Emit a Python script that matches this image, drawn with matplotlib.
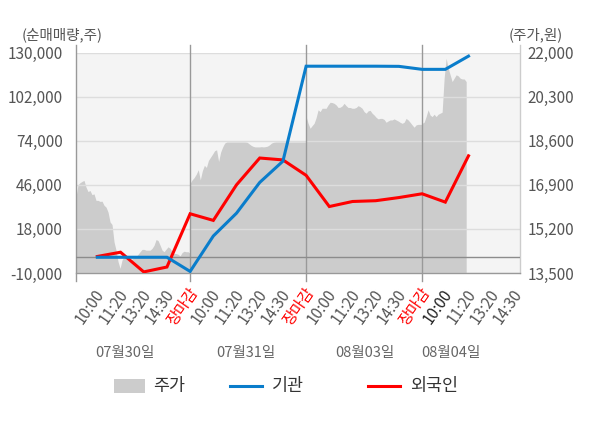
import numpy as np
import matplotlib
matplotlib.use("Agg")
import matplotlib.pyplot as plt
from matplotlib.patches import Rectangle
from matplotlib.lines import Line2D
import matplotlib.transforms as mtransforms

plt.rcParams["font.family"] = ["Noto Sans CJK KR", "DejaVu Sans"]

# ── data ───────────────────────────────────────────────────────────────
days        = ["07월30일", "07월31일", "08월03일", "08월04일"]
slot_labels = ["10:00", "11:20", "13:20", "14:30", "장마감"]

# net buying (shares) at each slot, day1 10:00 .. day4 11:20
inst    = [0, 0, 0, 0, -9000, 13500, 28000, 47500, 61000, 121300,
           121300, 121300, 121300, 121200, 119300, 119300, 127700]
foreign = [500, 3200, -9300, -6200, 27600, 23400, 46000, 63000, 61800, 52000,
           32200, 35400, 35900, 37900, 40300, 35000, 64400]

# intraday price (won)
price_d1 = [16430, 16900, 16980, 17030, 17070, 16810, 16640, 16680, 16520, 16550,
            16300, 16300, 16260, 16270, 16110, 16040, 15850, 15470, 15370, 14700,
            14380, 13940, 13680, 14000, 14130, 14060, 14040, 14000, 14040, 14090,
            14130, 14220, 14320, 14410, 14410, 14380, 14380, 14380, 14450, 14570,
            14790, 14750, 14570, 14380, 14320, 14420, 14510, 14450, 14320, 14250,
            14250, 14220, 14160, 14290, 14340, 14320, 14320, 14250]
price_d2 = [16960, 17090, 17180, 17310, 17480, 17090, 17440, 17650, 17570, 17840,
            17960, 18080, 18210, 18250, 17800, 18160, 18360, 18510, 18550, 18550,
            18550, 18550, 18550, 18550, 18550, 18550, 18550, 18550, 18540, 18480,
            18420, 18380, 18360, 18360, 18360, 18370, 18360, 18370, 18390, 18440,
            18510, 18540, 18550, 18550, 18550, 18550, 18550, 18550, 18550, 18550,
            18550, 18550, 18550, 18550, 18550, 18550, 18550, 18550]
price_d3 = [19530, 19270, 19080, 19180, 19270, 19490, 19790, 19720, 19850, 19850,
            19850, 19980, 20080, 20070, 20040, 19980, 19880, 19890, 19940, 20040,
            19950, 19880, 19880, 19850, 19850, 19880, 19950, 19910, 19850, 19720,
            19660, 19750, 19770, 19660, 19590, 19500, 19440, 19460, 19460, 19420,
            19310, 19360, 19400, 19400, 19440, 19400, 19360, 19310, 19270, 19310,
            19460, 19400, 19310, 19210, 19120, 19210, 19230, 19230, 19230]
price_d4 = [19270, 19310, 19530, 19790, 19590, 19530, 19620, 19530, 19620, 19660,
            19700, 21010, 21780, 21400, 21140, 20880, 21010, 21140, 21100, 21010,
            20980, 20980, 20880]

left_ticks  = [-10000, 18000, 46000, 74000, 102000, 130000]
right_ticks = [13500, 15200, 16900, 18600, 20300, 22000]

# ── layout ─────────────────────────────────────────────────────────────
W, H = 600, 428
def fx(px): return px / W
def fy(py): return 1 - py / H

AREA  = "#cccccc"
BLUE  = "#0a7dcb"
RED   = "#ff0000"
GRAY  = "#666666"

fig = plt.figure(figsize=(6, 4.28), dpi=100)
ax = fig.add_axes([fx(76), fy(273), fx(520) - fx(76), fy(52.5) - fy(273)])
ax.set_facecolor("#f4f4f4")

# price area on base axes (right side), shares lines on twin (left side)
spans = [(-0.92, 4), (4, 9), (9, 14), (14, 15.9)]
for (a, b), p in zip(spans, [price_d1, price_d2, price_d3, price_d4]):
    xs = np.linspace(a, b, len(p))
    ax.fill_between(xs, 13500, p, color=AREA, lw=0, zorder=1)
ax.set_ylim(13500, 22000)
ax.set_xlim(-0.92, 18.22)
ax.set_yticks(right_ticks)
ax.set_yticklabels([f"{v:,}" for v in right_ticks])
ax.grid(axis="y", color="#dddddd", lw=1, zorder=2)
ax.set_axisbelow(False)

ax2 = ax.twinx()
ax.yaxis.tick_right()
ax2.yaxis.tick_left()
ax2.set_ylim(-10000, 130000)
ax2.set_yticks(left_ticks)
ax2.set_yticklabels([f"{v:,}" for v in left_ticks])
ax2.axhline(0, color="#8c8c8c", lw=1, zorder=1)

xi = np.arange(len(inst))
ax2.plot(xi, foreign, color=RED, lw=2.2, zorder=3, solid_joinstyle="miter")
ax2.plot(xi, inst, color=BLUE, lw=2.2, zorder=4, solid_joinstyle="miter")

# day boundary lines, extending a bit above and below the plot
for xb in [4, 9, 14]:
    ax.axvline(xb, ymin=-0.035, ymax=1.033, color="#999999", lw=1,
               clip_on=False, zorder=2.6)

for a in (ax, ax2):
    a.tick_params(axis="y", length=0, labelsize=11, labelcolor="#555555")
    for s in a.spines.values():
        s.set_visible(False)
ax.tick_params(axis="y", pad=5.5)
ax2.tick_params(axis="y", pad=9.5)

# spines drawn manually so they can extend above the plot
ax.plot([0, 0], [-0.035, 1.033], transform=ax.transAxes, color="#999999",
        lw=1, clip_on=False, zorder=5)
ax.plot([1, 1], [0, 1.033], transform=ax.transAxes, color="#cccccc",
        lw=1, clip_on=False, zorder=5)
ax.plot([0, 1], [0, 0], transform=ax.transAxes, color="#999999",
        lw=1, clip_on=False, zorder=5)

# x tick labels
xt = np.arange(19)
labels = [slot_labels[i % 5] for i in xt]
ax.set_xticks(xt)
ax.set_xticklabels(labels, rotation=55, ha="center", va="center",
                   rotation_mode="anchor", fontsize=11)
ax.tick_params(axis="x", length=0, pad=24)
for i, t in enumerate(ax.get_xticklabels()):
    if labels[i] == "장마감":
        t.set_color(RED)
    elif i == 15:
        t.set_color("#222222")
    else:
        t.set_color("#555555")
    t.set_transform(t.get_transform() + mtransforms.ScaledTranslation(-7 / 100, 0, fig.dpi_scale_trans))

# date labels
trans = mtransforms.blended_transform_factory(ax.transData, ax.transAxes)
for d, xp in zip(days, [1.2, 6.4, 11.55, 15.25]):
    ax.text(xp, -0.363, d, transform=trans, ha="center", va="center",
            fontsize=10.5, color=GRAY)

# unit labels
fig.text(fx(62), fy(35), "(순매매량,주)", ha="center", va="center", fontsize=10.5, color="#555555")
fig.text(fx(536), fy(35), "(주가,원)", ha="center", va="center", fontsize=10.5, color="#555555")

# legend
fig.add_artist(Rectangle((fx(114), fy(393)), fx(145) - fx(114), fy(379) - fy(393),
                         transform=fig.transFigure, color=AREA, lw=0))
fig.text(fx(153), fy(386), "주가", ha="left", va="center", fontsize=12.5, color="#333333")
fig.add_artist(Line2D([fx(230), fx(262)], [fy(386), fy(386)], transform=fig.transFigure,
                      color=BLUE, lw=2.2))
fig.text(fx(272), fy(386), "기관", ha="left", va="center", fontsize=12.5, color="#333333")
fig.add_artist(Line2D([fx(368), fx(400)], [fy(386), fy(386)], transform=fig.transFigure,
                      color=RED, lw=2.2))
fig.text(fx(410), fy(386), "외국인", ha="left", va="center", fontsize=12.5, color="#333333")

fig.savefig("out.png", dpi=100)
